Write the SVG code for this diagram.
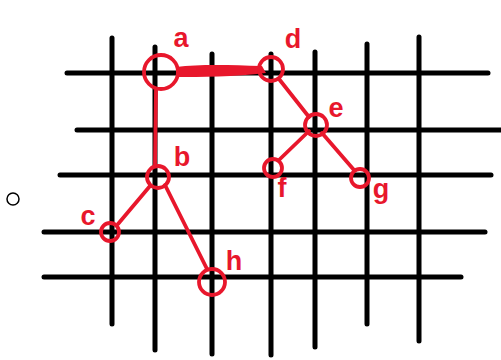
<svg xmlns="http://www.w3.org/2000/svg" width="501" height="360" viewBox="0 0 501 360">
<style>
.g{stroke:#000;stroke-width:5;stroke-linecap:round;fill:none}
.r{stroke:#e8172c;stroke-width:3.8;stroke-linecap:round;fill:none}
.lb{fill:#e8172c;font-family:"Liberation Sans",sans-serif;font-weight:bold;font-size:27px;text-anchor:middle}
</style>
<rect width="501" height="360" fill="#fff"/>
<g id="grid">
<line class="g" x1="112" y1="38" x2="112" y2="324"/>
<line class="g" x1="155" y1="47" x2="155" y2="350"/>
<line class="g" x1="212" y1="54" x2="212" y2="354"/>
<line class="g" x1="271" y1="54" x2="271" y2="355"/>
<line class="g" x1="315" y1="52" x2="315" y2="347"/>
<line class="g" x1="367" y1="44" x2="367" y2="324"/>
<line class="g" x1="419" y1="37" x2="419" y2="341"/>
<line class="g" x1="67" y1="73" x2="488" y2="73"/>
<line class="g" x1="77" y1="130" x2="503" y2="130"/>
<line class="g" x1="60" y1="175" x2="491" y2="175"/>
<line class="g" x1="44" y1="232" x2="485" y2="232"/>
<line class="g" x1="44" y1="277" x2="461" y2="277"/>
</g>
<circle cx="13" cy="199" r="6" fill="none" stroke="#000" stroke-width="1.5"/>
<g id="connectors">
<path d="M176,67 C200,64 230,65 262,66 L266,73 C235,77 200,77 176,77 Z" fill="#e8172c"/>
<path class="r" d="M156,90 L155,166"/>
<path class="r" d="M279,79 L309,117"/>
<path class="r" d="M309,131 L279,160"/>
<path class="r" d="M322,133 L354,170"/>
<path class="r" d="M150,186 L118,224"/>
<path class="r" d="M165,185 L207,269"/>
</g>
<g id="a"><circle class="r" cx="161" cy="72" r="17"/><text class="lb" x="181" y="47">a</text></g>
<g id="d"><circle class="r" cx="271" cy="69" r="12"/><text class="lb" x="293" y="48">d</text></g>
<g id="e"><circle class="r" cx="316" cy="125" r="11"/><text class="lb" x="336" y="117">e</text></g>
<g id="f"><circle class="r" cx="273" cy="168" r="9"/><text class="lb" x="282" y="197">f</text></g>
<g id="g"><circle class="r" cx="360" cy="178" r="9"/><text class="lb" x="381" y="198">g</text></g>
<g id="b"><circle class="r" cx="158" cy="177" r="11"/><text class="lb" x="182" y="166">b</text></g>
<g id="c"><circle class="r" cx="110" cy="232" r="9"/><text class="lb" x="88" y="225">c</text></g>
<g id="h"><circle class="r" cx="212" cy="282" r="13"/><text class="lb" x="234" y="270">h</text></g>
</svg>
